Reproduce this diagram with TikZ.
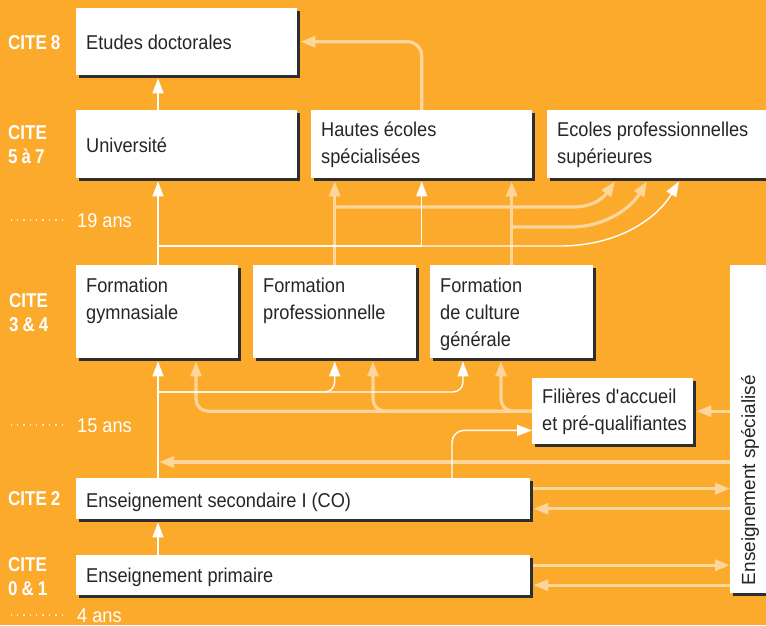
\documentclass[tikz,border=0pt]{standalone}
\usepackage{fontspec}
\setmainfont{Liberation Sans}[FakeStretch=0.91]
\newfontfamily\citefont{Liberation Sans}[FakeStretch=0.85]
\newfontfamily\specfont{Liberation Sans}
\usetikzlibrary{arrows.meta,calc,shadows}
\definecolor{bgorange}{HTML}{FBAA2B}
\definecolor{peach}{HTML}{FED69B}
\definecolor{boxtext}{HTML}{262626}
\definecolor{boxshadow}{HTML}{2E2E2E}
\definecolor{agedot}{HTML}{FFE6BF}

\begin{document}
\begin{tikzpicture}[x=1pt,y=-1pt,
		box/.style={fill=white,anchor=north west,inner xsep=10pt,inner ysep=0pt,
			align=left,text=boxtext,font=\fontsize{20}{27}\selectfont,
			execute at begin node={\spaceskip=5pt plus 2pt minus 1pt\relax},
			drop shadow={shadow xshift=3pt,shadow yshift=-3pt,fill=boxshadow,opacity=1}},
		cite/.style={anchor=base west,inner sep=0pt,text width=70pt,align=left,text=white,
			font=\citefont\bfseries\fontsize{20}{24}\selectfont,
			execute at begin node={\spaceskip=4pt plus 1pt\relax}},
		age/.style={anchor=base west,inner sep=0pt,text=white,font=\fontsize{20}{24}\selectfont},
		agedots/.style={draw=agedot,line width=1.5pt,dash pattern=on 1.5pt off 4.9pt},
		wline/.style={draw=white,line width=1.4pt},
		lline/.style={draw=peach,line width=3.2pt},
		>={Triangle[length=15pt,width=11pt]}]
		\useasboundingbox (0,0) rectangle (766,625);
		\fill[bgorange] (0,0) rectangle (766,625);
		% levels
		\node[cite] (c8) at (8,49) {CITE 8};
		\node[cite] (c57) at (8,139) {CITE\\5 à 7};
		\node[cite] (c34) at (9,307) {CITE\\3 \& 4};
		\node[cite] (c2) at (8,505) {CITE 2};
		\node[cite] (c01) at (8,571) {CITE\\0 \& 1};
		\node[age] (a19) at (77,227) {19 ans};
		\node[age] (a15) at (77,432) {15 ans};
		\node[age] (a4) at (77,622) {4 ans};
		\foreach \a in {a19,a15,a4}
			\draw[agedots] ([xshift=-14pt]\a.west) -- ++(-52,0);
		% boxes
		\node[box,text width=201pt,text height=41pt,text depth=26pt] (doc) at (76,8) {Etudes doctorales};
		\node[box,text width=201pt,text height=42pt,text depth=26pt] (univ) at (76,110) {Université};
		\node[box,text width=201pt,text height=26pt,text depth=42pt] (hes) at (311,110) {Hautes écoles\\spécialisées};
		\node[box,text width=210pt,text height=26pt,text depth=42pt] (eps) at (547,110) {Ecoles professionnelles\\supérieures};
		\node[box,text width=142pt,text height=27pt,text depth=66pt] (gym) at (76,265) {Formation\\gymnasiale};
		\node[box,text width=143pt,text height=27pt,text depth=66pt] (prof) at (253,265) {Formation\\professionnelle};
		\node[box,text width=143pt,text height=27pt,text depth=66pt] (cult) at (430,265) {Formation\\de culture\\générale};
		\node[box,text width=141pt,text height=25pt,text depth=41pt] (fil) at (532,378) {Filières d\textquotesingle accueil\\\mbox{et pré-qualifiantes}};
		\node[box,text width=434pt,text height=29pt,text depth=12pt] (sec) at (76,478) {Enseignement secondaire I (CO)};
		\node[box,text width=434pt,text height=27pt,text depth=13pt] (prim) at (76,555) {Enseignement primaire};
		\node[box,minimum width=40pt,inner ysep=8pt,text height=312pt,text depth=0pt,
			font=\specfont\fontsize{19}{23}\selectfont] (spec) at (730,265) {\rotatebox{90}{Enseignement spécialisé}};
		% paths
		\coordinate (trunk) at (158,0);
		\coordinate (wy1) at (0,246);
		\coordinate (ly1) at (0,207);
		\coordinate (ly2) at (0,227);
		\coordinate (wy2) at (0,392);
		\coordinate (ly3) at (0,462);
		\draw[lline,->,rounded corners=14pt] (hes.north) |- ([xshift=3pt]doc.east);
		\draw[lline,->] (prof.north) -- ([yshift=-3pt]prof.north |- hes.south);
		\draw[lline,->] (cult.north) -- ([yshift=-3pt]cult.north |- hes.south);
		\draw[lline,->] (prof.north |- ly1) -- (573,207) .. controls (597,207) and (606,194) .. ($(eps.south west)+(68,3)$);
		\draw[lline,->] (cult.north |- ly2) -- (570,227) .. controls (608,227) and (632,206) .. ($(eps.south west)+(100,3)$);
		\draw[lline,->,rounded corners=12pt] (fil.west) -| ($(gym.south west)+(120,3)$);
		\draw[lline,->,rounded corners=12pt] (fil.west) -| ($(prof.south west)+(120,3)$);
		\draw[lline,->,rounded corners=12pt] (fil.west) -| ($(cult.south west)+(71,3)$);
		\draw[lline,->] (spec.west |- fil.east) -- ([xshift=3pt]fil.east);
		\draw[lline,->] (spec.west |- ly3) -- ([xshift=1pt]trunk |- ly3);
		\foreach \b in {sec,prim} {
			\draw[lline,->] ([shift={(3,-10)}]\b.east) -- ([yshift=10pt]spec.west |- \b.east);
			\draw[lline,->] ([yshift=-10pt]spec.west |- \b.east) -- ([shift={(3,10)}]\b.east);
		}
		\draw[wline,->] (prim.north -| trunk) -- ([yshift=-3pt]sec.south -| trunk);
		\draw[wline,->] (sec.north -| trunk) -- ([yshift=-3pt]gym.south -| trunk);
		\draw[wline,->] (gym.north -| trunk) -- ([yshift=-3pt]univ.south -| trunk);
		\draw[wline,->] (univ.north -| trunk) -- ([yshift=-3pt]doc.south -| trunk);
		\draw[wline,->] (trunk |- wy1) -| ([yshift=-3pt]hes.south);
		\draw[wline,->] (hes.south |- wy1) -- (560,246) .. controls (616,246) and (656,220) .. ($(eps.south west)+(132,3)$);
		\draw[wline,->,rounded corners=10pt] (trunk |- wy2) -| ([yshift=-3pt]prof.south);
		\draw[wline,->,rounded corners=10pt] (trunk |- wy2) -| ($(cult.south west)+(33,3)$);
		\draw[wline,->,rounded corners=12pt] ($(sec.north west)+(376,0)$) |- ($(fil.south west)+(0,-14)$);
	\end{tikzpicture}
\end{document}
